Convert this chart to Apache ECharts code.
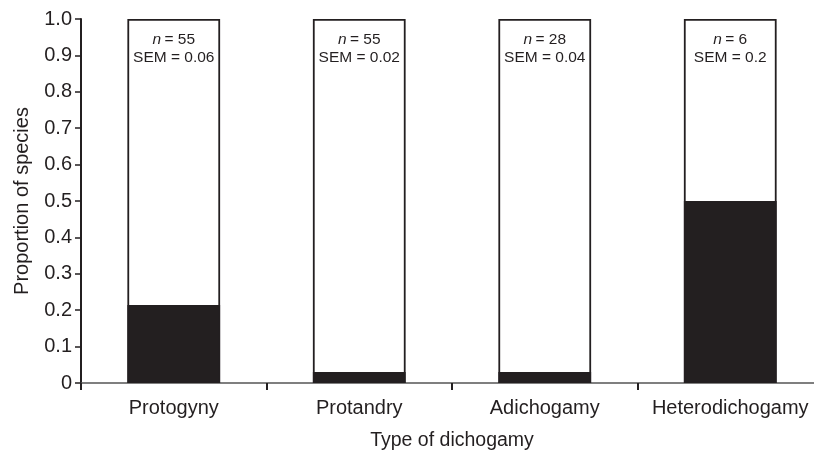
<!DOCTYPE html>
<html>
<head>
<meta charset="utf-8">
<script src="https://cdn.jsdelivr.net/npm/echarts@6/dist/echarts.min.js"></script>
<style>
html,body{margin:0;padding:0;background:#fff;overflow:hidden;width:814px;height:454px;}
#chart{width:824px;height:454px;}
</style>
</head>
<body>
<div id="chart"></div>
<script>
const categories = ['Protogyny', 'Protandry', 'Adichogamy', 'Heterodichogamy'];
const proportions = [0.214, 0.03, 0.03, 0.5];
const totals = [1, 1, 1, 1];
const nValues = [55, 55, 28, 6];
const semValues = ['0.06', '0.02', '0.04', '0.2'];

const FONT = '"Liberation Sans", Arial, Helvetica, sans-serif';
const INK = '#231f20';

const chart = echarts.init(document.getElementById('chart'), null, {renderer: 'canvas'});
chart.setOption({
  animation: false,
  backgroundColor: '#fff',
  grid: {left: 81, right: 1, top: 19, bottom: 71, containLabel: false, outerBoundsMode: 'none'},
  xAxis: {
    type: 'category',
    data: categories,
    boundaryGap: true,
    name: 'Type of dichogamy',
    nameLocation: 'middle',
    nameGap: 48,
    nameTextStyle: {fontFamily: FONT, fontSize: 19.5, color: INK, verticalAlign: 'top'},
    axisLine: {lineStyle: {color: '#555', width: 1.5}},
    axisTick: {show: true, length: 7, alignWithLabel: false, interval: 0, lineStyle: {color: INK, width: 2}},
    axisLabel: {fontFamily: FONT, fontSize: 20, color: INK, margin: 15, interval: 0}
  },
  yAxis: {
    type: 'value',
    min: 0,
    max: 1,
    interval: 0.1,
    name: 'Proportion of species',
    nameLocation: 'middle',
    nameGap: 49,
    nameTextStyle: {fontFamily: FONT, fontSize: 20, color: INK},
    splitLine: {show: false},
    axisLine: {show: true, lineStyle: {color: INK, width: 2}},
    axisTick: {show: true, length: 6, lineStyle: {color: INK, width: 1.5}},
    axisLabel: {
      fontFamily: FONT, fontSize: 20, color: INK, margin: 9,
      formatter: v => (v === 0 ? '0' : v.toFixed(1))
    }
  },
  series: [
    {
      type: 'bar',
      data: totals,
      barWidth: '50%',
      itemStyle: {color: '#fff', borderColor: INK, borderWidth: 1.8},
      label: {
        show: true,
        position: 'insideTop',
        distance: 11,
        formatter: p => '{i|n} {t|= ' + nValues[p.dataIndex] + '}\n{t|SEM = ' + semValues[p.dataIndex] + '}',
        rich: {
          i: {fontFamily: FONT, fontSize: 15.5, fontStyle: 'italic', color: INK, lineHeight: 18.5},
          t: {fontFamily: FONT, fontSize: 15.5, color: INK, lineHeight: 18.5}
        }
      },
      z: 1
    },
    {
      type: 'bar',
      data: proportions,
      barWidth: '50%',
      barGap: '-100%',
      itemStyle: {color: INK, borderColor: INK, borderWidth: 1.5},
      z: 2
    }
  ]
});
</script>
</body>
</html>
